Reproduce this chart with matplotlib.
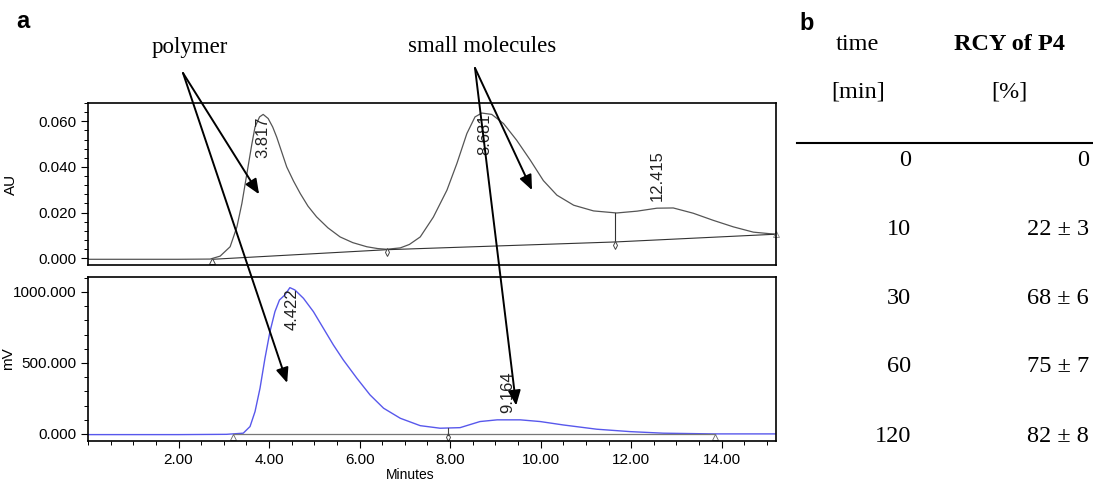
import matplotlib.pyplot as plt
from matplotlib.ticker import MultipleLocator, FormatStrFormatter

plt.rcParams['font.family'] = ['Liberation Sans', 'DejaVu Sans']

# --- UV trace (AU) ---
uv_t = [0.0, 1.0, 2.0, 2.70, 2.92, 3.14, 3.29, 3.40, 3.51, 3.62, 3.69, 3.79, 3.87, 3.98,
        4.08, 4.17, 4.28, 4.39, 4.54, 4.69, 4.86, 5.05, 5.30, 5.57, 5.85, 6.16, 6.40,
        6.60, 6.90, 7.10, 7.34, 7.63, 7.93, 8.15, 8.37, 8.55, 8.70, 8.92, 9.18, 9.47,
        9.77, 10.06, 10.36, 10.73, 11.17, 11.68, 12.13, 12.57, 12.93, 13.37, 13.81,
        14.26, 14.70, 15.18]
uv_au = [-0.0005, -0.0005, -0.0005, -0.0004, 0.0009, 0.005, 0.0137, 0.024, 0.037, 0.050,
         0.0575, 0.0619, 0.063, 0.0612, 0.0575, 0.053, 0.0465, 0.040, 0.0338, 0.0283,
         0.0228, 0.0181, 0.0133, 0.0093, 0.0068, 0.0050, 0.0042, 0.0039, 0.0045, 0.0060,
         0.0093, 0.018, 0.0298, 0.0415, 0.0546, 0.0619, 0.0636, 0.063, 0.059, 0.0517,
         0.043, 0.034, 0.0276, 0.0232, 0.0207, 0.0198, 0.0206, 0.0219, 0.0220, 0.0197,
         0.0166, 0.0137, 0.0114, 0.0105]
uv_base_t = [2.75, 6.6, 11.65, 15.2]
uv_base_au = [-0.0005, 0.0037, 0.0071, 0.0105]
uv_drop_t = 11.65
uv_drop_au = [0.0071, 0.0198]
uv_peaks = ['3.817', '8.681', '12.415']
uv_peak_t = [3.87, 8.77, 12.57]
uv_peak_au = [0.053, 0.0545, 0.0364]

# --- radio trace (mV) ---
rad_t = [0.0, 1.0, 2.0, 3.06, 3.43, 3.58, 3.69, 3.80, 3.91, 4.02, 4.13, 4.23, 4.35, 4.46,
         4.57, 4.76, 4.98, 5.20, 5.42, 5.64, 5.94, 6.23, 6.53, 6.90, 7.34, 7.78, 8.22,
         8.66, 9.04, 9.55, 9.99, 10.50, 11.24, 11.98, 12.71, 13.81, 15.18]
rad_mv = [-5, -5, -5, -3, 5, 52, 157, 321, 533, 720, 861, 943, 979, 1030, 1014, 955, 861,
          744, 627, 521, 392, 275, 181, 110, 58, 40, 44, 87, 99, 99, 87, 63, 33, 16, 5,
          0, 0]
rad_base_t = [3.2, 13.85]
rad_base_mv = [0, 0]
rad_peaks = ['4.422', '9.164']
rad_peak_t = [4.51, 9.28]
rad_peak_mv = [876, 296]

# --- table b ---
times = [0, 10, 30, 60, 120]
rcy_mean = [0, 22, 68, 75, 82]
rcy_sd = [None, 3, 6, 7, 8]

W, H = 1093, 483
fig = plt.figure(figsize=(W / 100, H / 100), dpi=100)

def fx(px):
    return px / W

def fy(py):
    return 1 - py / H

ax1 = fig.add_axes([fx(88), fy(265), fx(776 - 88), (265 - 103) / H])
ax2 = fig.add_axes([fx(88), fy(441), fx(776 - 88), (441 - 277) / H])

for ax in (ax1, ax2):
    ax.set_xlim(0, 15.2)
    for s in ax.spines.values():
        s.set_linewidth(1.2)
    ax.tick_params(axis='y', which='major', direction='out', length=5, width=0.8, labelsize=11)
    ax.tick_params(axis='y', which='minor', direction='out', length=3, width=0.7)

# top panel
ax1.plot(uv_t, uv_au, color='#555555', lw=0.9)
ax1.plot(uv_base_t, uv_base_au, color='#333333', lw=0.8)
ax1.plot([uv_drop_t, uv_drop_t], uv_drop_au, color='#333333', lw=0.8)
ax1.plot(uv_base_t[0], uv_base_au[0] - 0.0008, marker='^', ms=5, mfc='white', mec='#444444', mew=0.7)
ax1.plot(uv_base_t[1:3], [v - 0.0012 for v in uv_base_au[1:3]], ls='none', marker='d', ms=4,
         mfc='white', mec='#444444', mew=0.7)
ax1.plot(uv_base_t[3], uv_base_au[3], marker='^', ms=4, mfc='white', mec='#888888', mew=0.6, clip_on=False)
for lab, t, v in zip(uv_peaks, uv_peak_t, uv_peak_au):
    ax1.text(t, v, lab, rotation=90, ha='center', va='center', fontsize=12, color='#222222')
ax1.set_ylim(-0.003, 0.068)
ax1.yaxis.set_major_locator(MultipleLocator(0.02))
ax1.yaxis.set_minor_locator(MultipleLocator(0.004))
ax1.yaxis.set_major_formatter(FormatStrFormatter('%.3f'))
ax1.set_xticks([])
ax1.set_ylabel('AU', fontsize=11)
ax1.yaxis.set_label_coords(-0.102, 0.5)

# bottom panel
ax2.plot(rad_t, rad_mv, color='#5858ec', lw=1.0)
ax2.plot(rad_base_t, rad_base_mv, color='#777777', lw=0.9)
ax2.plot(rad_base_t, [-25, -25], ls='none', marker='^', ms=5, mfc='white', mec='#666666', mew=0.6)
ax2.plot(7.95, -25, marker='d', ms=4, mfc='white', mec='#444444', mew=0.7)
ax2.plot([7.95, 7.95], [-10, 40], color='#444444', lw=0.8)
for lab, t, v in zip(rad_peaks, rad_peak_t, rad_peak_mv):
    ax2.text(t, v, lab, rotation=90, ha='center', va='center', fontsize=12, color='#222222')
ax2.set_ylim(-50, 1105)
ax2.yaxis.set_major_locator(MultipleLocator(500))
ax2.yaxis.set_minor_locator(MultipleLocator(100))
ax2.yaxis.set_major_formatter(FormatStrFormatter('%.3f'))
ax2.xaxis.set_major_locator(MultipleLocator(2))
ax2.xaxis.set_minor_locator(MultipleLocator(0.5))
ax2.xaxis.set_major_formatter(FormatStrFormatter('%.2f'))
ax2.tick_params(axis='x', which='major', direction='out', length=5, width=0.8, labelsize=11)
ax2.tick_params(axis='x', which='minor', direction='out', length=3, width=0.7)
ax2.set_xticks([t for t in ax2.get_xticks() if 1 < t < 15])
ax2.set_xlim(0, 15.2)
ax2.set_ylabel('mV', fontsize=11)
ax2.yaxis.set_label_coords(-0.106, 0.5)
ax2.set_xlabel('Minutes', fontsize=10)
ax2.xaxis.set_label_coords(0.468, -0.165)

# arrows
arrow = dict(arrowstyle='-|>,head_length=0.9,head_width=0.38', color='black', lw=1.4,
             shrinkA=0, shrinkB=0)
for ax, xy, tail in [(ax1, (3.78, 0.028), (183, 73)), (ax2, (4.40, 359), (183, 73)),
                     (ax1, (9.81, 0.0298), (475, 68)), (ax2, (9.46, 200), (475, 68))]:
    ax.annotate('', xy=xy, xycoords='data', xytext=(fx(tail[0]), fy(tail[1])),
                textcoords='figure fraction', arrowprops=arrow, annotation_clip=False)

serif = ['Liberation Serif', 'DejaVu Serif']
fig.text(fx(190), fy(47), 'polymer', family=serif, fontsize=16.5, ha='center', va='center')
fig.text(fx(482), fy(47), 'small molecules', family=serif, fontsize=16.5, ha='center', va='center')

fig.text(fx(23), fy(22), 'a', fontsize=17, fontweight='bold', ha='center', va='center')
fig.text(fx(807), fy(23), 'b', fontsize=17, fontweight='bold', ha='center', va='center')

# table b
fig.text(fx(857), fy(44), 'time', family=serif, fontsize=17.5, ha='center', va='center')
fig.text(fx(858), fy(92), '[min]', family=serif, fontsize=17.5, ha='center', va='center')
fig.text(fx(1009), fy(44), 'RCY of P4', family=serif, fontsize=17.5, fontweight='bold',
         ha='center', va='center')
fig.text(fx(1009), fy(92), '[%]', family=serif, fontsize=17.5, ha='center', va='center')
fig.add_artist(plt.Line2D([fx(797), fx(1093)], [fy(143), fy(143)], color='black', lw=1.5))
row_y = [160, 229, 298, 367, 436]
for t, m, sd, y in zip(times, rcy_mean, rcy_sd, row_y):
    fig.text(fx(911), fy(y), str(t), family=serif, fontsize=17.5, ha='right', va='center')
    val = str(m) if sd is None else f'{m} \u00b1 {sd}'
    fig.text(fx(1089), fy(y), val, family=serif, fontsize=17.5, ha='right', va='center')

fig.savefig('out.png', dpi=100)
